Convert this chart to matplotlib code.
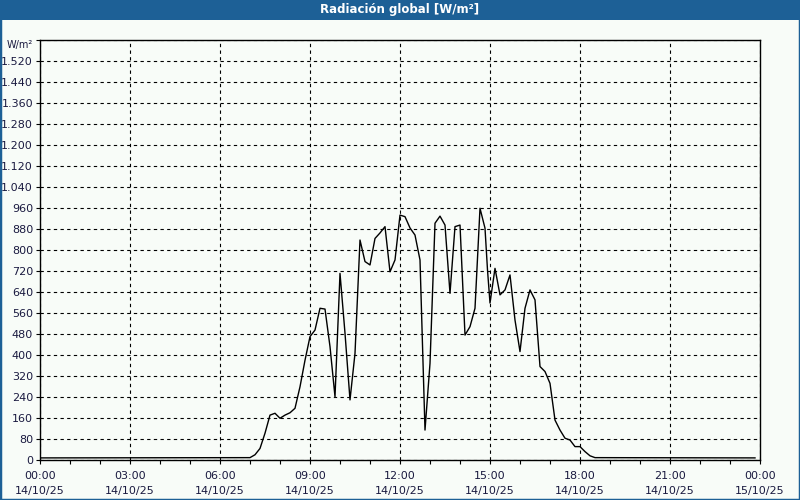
import matplotlib
matplotlib.use("Agg")
import matplotlib.pyplot as plt
from matplotlib.patches import Rectangle

# data (10 min readings, W/m2)
times = ["00:00", "07:00", "07:10", "07:20", "07:30", "07:40", "07:50",
         "08:00", "08:10", "08:20", "08:30", "08:40", "08:50",
         "09:00", "09:10", "09:20", "09:30", "09:40", "09:50",
         "10:00", "10:10", "10:20", "10:30", "10:40", "10:50",
         "11:00", "11:10", "11:20", "11:30", "11:40", "11:50",
         "12:00", "12:10", "12:20", "12:30", "12:40", "12:50",
         "13:00", "13:10", "13:20", "13:30", "13:40", "13:50",
         "14:00", "14:10", "14:20", "14:30", "14:40", "14:50", "14:55",
         "15:00", "15:10", "15:20", "15:30", "15:40", "15:50",
         "16:00", "16:10", "16:20", "16:30", "16:40", "16:50",
         "17:00", "17:10", "17:20", "17:30", "17:40", "17:50",
         "18:00", "18:10", "18:20", "18:30", "23:50"]
radiation = [8, 9, 20, 44, 102, 171, 178,
             159, 171, 180, 197, 279, 380,
             470, 495, 578, 575, 432, 241,
             711, 483, 229, 406, 838, 756,
             743, 844, 865, 889, 717, 762,
             933, 927, 884, 857, 762, 114,
             368, 902, 929, 895, 635, 889,
             895, 476, 508, 578, 959, 883, 724,
             598, 730, 629, 648, 705, 533,
             413, 578, 648, 610, 356, 337,
             292, 152, 114, 83, 76, 51,
             51, 32, 16, 9, 8]
tick_labels = ["00:00\n14/10/25", "03:00\n14/10/25", "06:00\n14/10/25",
               "09:00\n14/10/25", "12:00\n14/10/25", "15:00\n14/10/25",
               "18:00\n14/10/25", "21:00\n14/10/25", "00:00\n15/10/25"]

hours = [int(t[:2]) + int(t[3:]) / 60 for t in times]

bg = "#f8fcf8"
blue = "#1d6096"
txt = "#1a1a40"

fig = plt.figure(figsize=(8, 5), dpi=100, facecolor=bg)

# title bar and frame
fig.patches.append(Rectangle((0, 0.96), 1, 0.04, transform=fig.transFigure,
                             facecolor=blue, edgecolor="none", zorder=0))
fig.patches.append(Rectangle((0, 0), 1, 1, transform=fig.transFigure,
                             facecolor="none", edgecolor=blue, lw=2.5, zorder=5))
fig.text(0.5, 0.981, "Radiación global [W/m²]", color="white", fontsize=8.5,
         fontweight="bold", ha="center", va="center")

ax = fig.add_axes([0.05, 0.08, 0.9, 0.84], facecolor=bg)
ax.plot(hours, radiation, color="black", lw=1)

ax.set_xlim(0, 24)
ax.set_ylim(0, 1600)

ax.set_xticks(range(0, 25, 3))
ax.set_xticklabels(tick_labels, linespacing=1.55)
ax.set_xticks(range(0, 25), minor=True)

yt = list(range(0, 1601, 80))
ylab = [f"{v:,}".replace(",", ".") for v in yt]
ylab[-1] = "W/m²"
ax.set_yticks(yt)
ax.set_yticklabels(ylab)

ax.tick_params(axis="both", which="both", direction="out", length=3,
               width=0.8, color="black", labelsize=8, labelcolor=txt, pad=2)
ax.tick_params(axis="x", which="major", pad=5)

unit = ax.get_yticklabels()[-1]
unit.set_va("top")
unit.set_fontsize(7)

ax.grid(True, which="major", color="black", linestyle=(0, (3, 3)), lw=0.8)
for s in ax.spines.values():
    s.set_color("black")
    s.set_linewidth(1)

fig.savefig("out.png", dpi=100, facecolor=bg)
